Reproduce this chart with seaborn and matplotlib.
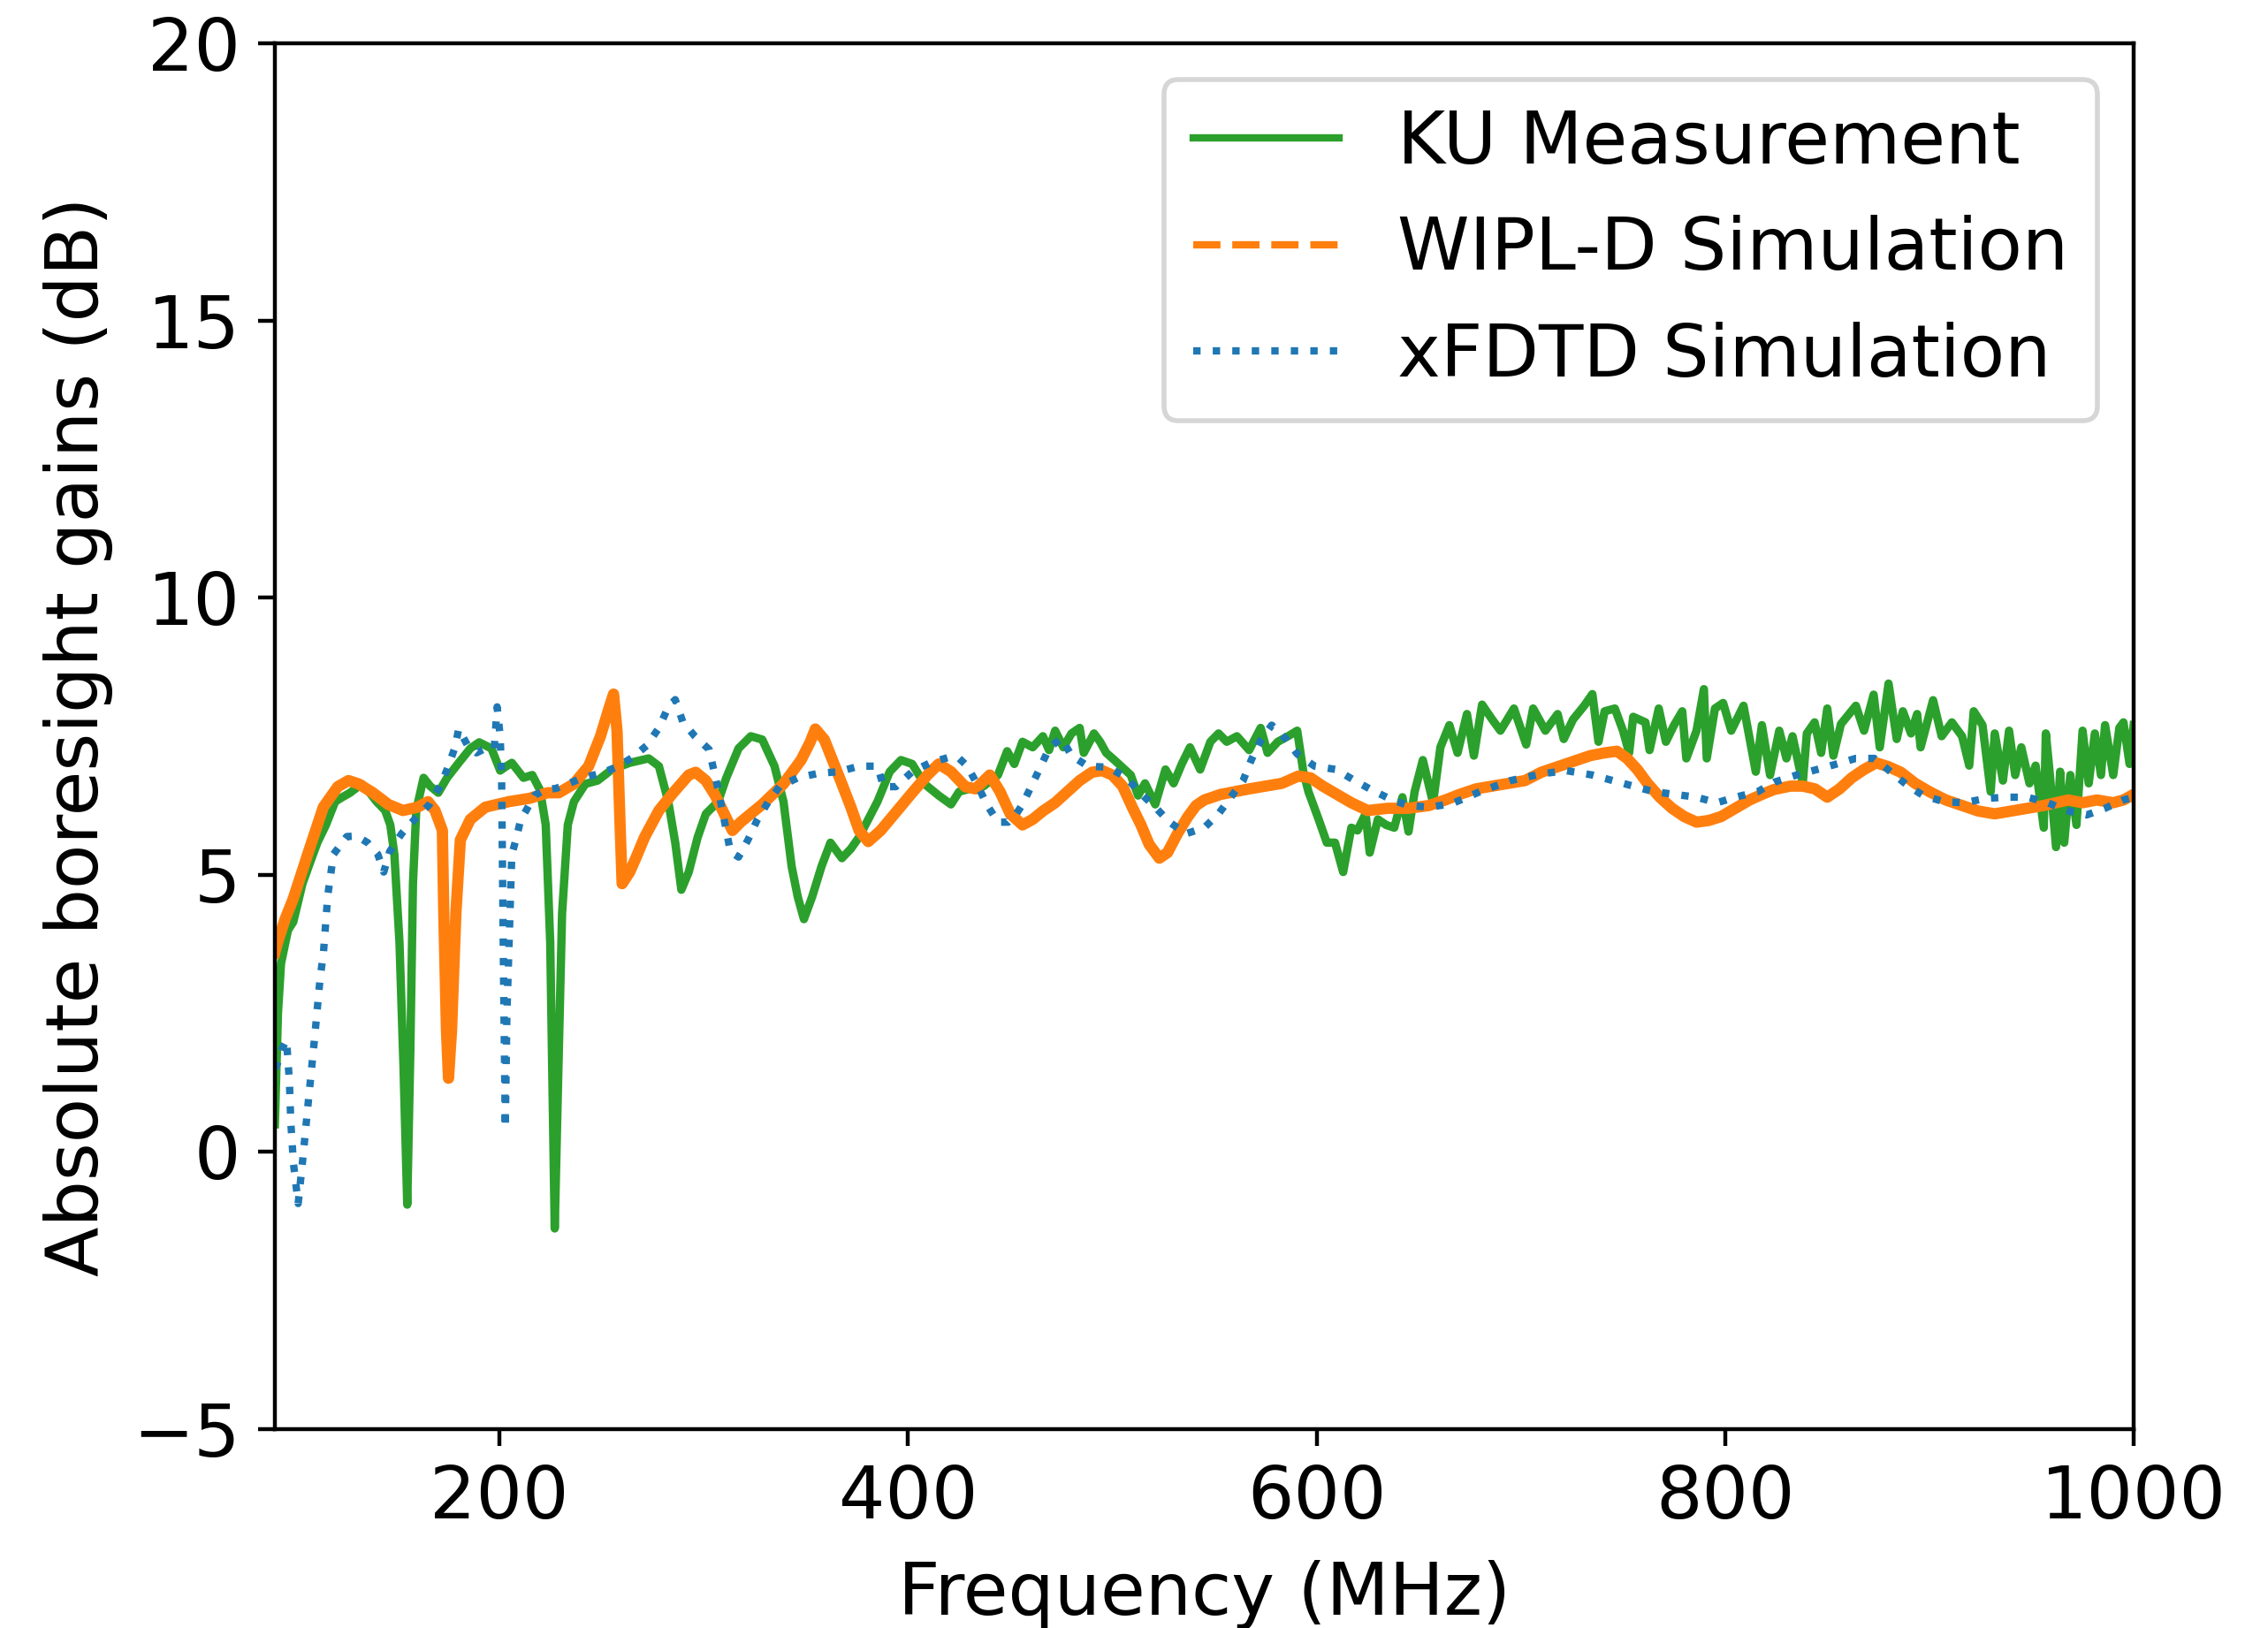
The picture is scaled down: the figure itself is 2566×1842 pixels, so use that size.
import matplotlib
matplotlib.use("Agg")
import matplotlib.pyplot as plt
import seaborn as sns
import numpy as np
import pandas as pd

# ---------------- data ----------------
ku_freq = [90, 91.5, 93, 96.4, 99, 103.5, 107, 110.8, 115, 119.5, 123, 126.8, 132.5, 136, 139.8, 144,
           146.5, 148.5, 151, 153, 154.8, 156.3, 157.6, 159.2, 162.8, 166, 170, 174.3, 180, 185.7, 190,
           196, 200.3, 203, 206, 211.7, 216, 219.8, 222.6, 224.8, 227, 228.8, 230.6, 233.4, 236.4, 242,
           248, 255, 263.7, 273, 278, 282.6, 286, 289, 292.6, 297, 301, 307, 311, 317, 323, 328.6, 334.6,
           339, 343, 346, 349, 353, 357.6, 362, 367.6, 372, 376, 380.5, 385, 391, 396.5, 402, 408, 415,
           421, 425, 430, 437, 444, 448.5, 452, 456, 461, 466, 469, 472, 476, 480, 484, 486, 491, 494,
           497, 501, 506, 509, 512.6, 516, 521, 526, 530, 534, 538, 543, 548, 552, 556, 561, 567, 572.6,
           576, 581, 586, 590.5, 593.5, 596, 601, 605, 609, 613, 617, 620, 624, 626, 630, 634, 638, 642,
           645, 648, 652, 657, 660.6, 665, 669, 673.6, 677, 681, 686, 690, 696.6, 702.6, 706, 712, 718,
           721, 725.5, 731, 735, 738, 741, 746, 750, 753, 755, 761, 763, 767.5, 771, 775, 779, 781, 786,
           789.6, 791, 795, 799, 803, 809, 815, 818, 822, 826.5, 830, 833, 838, 840, 843.8, 847, 850,
           853, 856.7, 864, 868, 872.7, 875.7, 880, 884, 887, 891, 894, 895.7, 901.8, 906, 911, 916,
           919.5, 921.7, 926, 930, 932, 936, 939, 942, 945, 949, 952, 956, 957, 959, 962, 964, 966, 969,
           972, 975, 978, 981, 984, 986, 990, 993, 995, 998, 1000]
ku_gain = [0.5, 2.5, 3.4, 4.0, 4.15, 4.84, 5.2, 5.58, 5.9, 6.32, 6.4, 6.48, 6.64, 6.5, 6.32, 6.16,
           5.9, 5.37, 3.78, 1.5, -0.95, 1.8, 4.84, 6.16, 6.75, 6.6, 6.48, 6.75, 7.02, 7.28, 7.39,
           7.28, 6.88, 6.95, 7.02, 6.75, 6.8, 6.53, 5.9, 3.78, -1.38, 1.5, 4.3, 5.9, 6.32, 6.64,
           6.7, 6.9, 7.02, 7.1, 6.96, 6.32, 5.58, 4.73, 5.05, 5.68, 6.1, 6.32, 6.75, 7.28, 7.5, 7.44, 6.96,
           6.32, 5.15, 4.6, 4.2, 4.6, 5.15, 5.58, 5.3, 5.47, 5.68, 6.0, 6.32, 6.86, 7.07, 7.0, 6.64, 6.43,
           6.27, 6.5, 6.55, 6.6, 6.8, 7.23, 7.0, 7.4, 7.3, 7.5, 7.25, 7.6, 7.3, 7.55, 7.65, 7.2, 7.55, 7.4,
           7.2, 7.07, 6.9, 6.8, 6.43, 6.65, 6.27, 6.9, 6.65, 7.0, 7.3, 6.9, 7.4, 7.55, 7.4, 7.5, 7.25, 7.65,
           7.2, 7.4, 7.5, 7.6, 6.86, 6.5, 6.0, 5.58, 5.58, 5.05, 5.85, 5.8, 6.1, 5.4, 6.0, 5.9, 5.85, 6.4,
           5.78, 6.5, 7.07, 6.3, 7.3, 7.7, 7.2, 7.9, 7.15, 8.07, 7.8, 7.6, 8.0, 7.35, 8.0, 7.6, 7.9,
           7.45, 7.8, 8.05, 8.26, 7.4, 7.95, 8.0, 7.6, 7.2, 7.85, 7.75, 7.25, 8.0, 7.4, 7.7, 7.95, 7.1, 7.6,
           8.35, 7.1, 8.0, 8.1, 7.6, 8.05, 6.86, 7.7, 6.8, 7.6, 7.1, 7.5, 6.65, 7.55, 7.75, 7.2, 8.0,
           7.15, 7.72, 8.05, 7.6, 8.25, 7.3, 8.45, 7.45, 7.95, 7.55, 7.9, 7.3, 8.15, 7.5, 7.75, 7.5,
           6.97, 7.95, 7.7, 6.5, 7.55, 6.7, 7.6, 6.8, 7.3, 6.65, 6.97, 5.85, 7.55, 6.8, 5.5, 6.86, 5.58, 6.8,
           5.9, 7.6, 6.65, 7.55, 6.8, 7.7, 6.8, 7.65, 7.75, 7.0, 7.7]

wipl_freq = [90, 91.3, 95, 99, 106.5, 113.7, 120.8, 126, 131, 138, 145.5, 152.7, 159.8, 165, 168.4, 172,
             172.7, 174, 175, 176.5, 178.6, 180.8, 185.7, 193, 204.6, 214.7, 223.4, 229, 236.4, 243.6,
             249.4, 253.7, 255.8, 257.5, 259, 260, 263.7, 266.7, 271, 278, 285, 292.6, 296, 301, 305.6,
             310, 314, 318, 328.6, 339, 347.6, 352, 354.6, 359, 363, 367.6, 372, 376, 380.5, 386.6, 393.6,
             402, 409.5, 415, 421, 428, 433, 440, 445, 450, 456, 461, 466, 472, 478, 484, 490, 495, 500,
             505, 510, 514, 518, 523, 527, 532, 537, 541, 545, 553, 560, 567, 575, 583, 591, 597, 603, 610,
             617, 625, 635, 645, 655, 663, 670, 678, 686, 694, 702, 710, 718, 726, 734, 741, 747, 752, 757,
             762, 768, 774, 780, 786, 792, 798, 805, 812, 818, 824, 832, 838, 844, 850, 856, 862, 868, 874,
             880, 886, 893, 900, 908, 916, 924, 932, 940, 948, 956, 962, 968, 975, 982, 990, 995, 1000]
wipl_gain = [3.6, 3.78, 4.2, 4.57, 5.42, 6.22, 6.59, 6.7, 6.64, 6.48, 6.27, 6.16, 6.22, 6.32, 6.16, 5.8,
             4.3, 2.2, 1.33, 2.2, 4.3, 5.63, 6.0, 6.22, 6.32, 6.38, 6.48, 6.48, 6.64, 6.96,
             7.5, 8.02, 8.26, 7.6, 5.9, 4.84, 5.05, 5.3, 5.68, 6.16, 6.48, 6.8, 6.85, 6.7, 6.43,
             6.1, 5.8, 5.95, 6.27, 6.64, 7.07, 7.39, 7.63, 7.44, 7.07, 6.64, 6.22, 5.8, 5.6, 5.8, 6.11,
             6.48, 6.8, 7.0, 6.86, 6.59, 6.55, 6.8, 6.5, 6.1, 5.9, 6.0, 6.15, 6.3, 6.5, 6.7, 6.85, 6.88, 6.8,
             6.6, 6.2, 5.9, 5.55, 5.3, 5.4, 5.75, 6.05, 6.25, 6.35, 6.45, 6.5, 6.55, 6.6, 6.65, 6.78, 6.75, 6.6, 6.45,
             6.3, 6.16, 6.2, 6.2, 6.25, 6.35, 6.45, 6.55, 6.6, 6.65, 6.7, 6.85, 6.95, 7.05, 7.15, 7.2, 7.23, 7.1, 6.9,
             6.65, 6.4, 6.2, 6.05, 5.95, 5.98, 6.05, 6.2, 6.35, 6.45, 6.54, 6.6, 6.6, 6.55, 6.4, 6.55, 6.75, 6.9, 7.02,
             6.95, 6.85, 6.65, 6.5, 6.35, 6.25, 6.15, 6.1, 6.15, 6.2, 6.25, 6.3, 6.35, 6.3, 6.35, 6.3, 6.35, 6.45]

xfdtd_freq = [90, 91.3, 93.5, 95.7, 97.1, 97.8, 99.1, 101.4, 103.6, 106.5, 109.4, 112.2, 113.7, 115.9, 118.7,
              125.2, 130, 135.4, 140.4, 143.3, 146.2, 152, 158.4, 165.7, 171.4, 174.3, 178, 180, 184.4,
              188.7, 193, 197.4, 198.8, 200.3, 201, 202, 202.8, 203.6, 206, 208, 210.4, 213, 217, 222,
              227.7, 233.5, 240.7, 249.4, 257.3, 265.2, 272, 278, 282.6, 286, 289.7, 295.6, 302.6, 307,
              309, 311, 313, 317, 321.6, 326, 331.6, 337, 346, 356, 366, 376, 385, 388, 394, 402, 410.8,
              420, 425, 429, 434, 438.5, 444, 449, 453, 456, 460.6, 465, 469, 475, 480, 488, 498, 507, 513,
              521, 528, 536, 545, 552, 558, 564, 568, 572.6, 578, 585, 590.5, 599, 609.5, 618.6, 627, 637,
              645, 655, 666, 680, 695, 710, 722, 735, 750, 765, 786, 796, 805, 816, 824, 835, 850, 864,
              873, 881, 889, 897, 907, 917, 928, 938, 948, 958, 967, 977, 986, 995, 1000]
xfdtd_gain = [1.5, 1.6, 1.86, 2.02, 1.28, 0.53, -0.21, -0.93, -0.15, 0.96, 2.04, 3.16, 3.56, 4.63, 5.37,
              5.69, 5.7, 5.58, 5.37, 5.05, 5.42, 5.74, 6.0, 6.27, 6.64, 6.9, 7.28, 7.63, 7.33,
              7.2, 7.28, 7.28, 8.03, 7.5, 6.75, 3.0, 0.43, 2.5, 5.37, 5.63, 6.0, 6.16, 6.43, 6.53,
              6.56, 6.64, 6.75, 6.83, 6.94, 7.12, 7.33, 7.65, 8.03, 8.16, 7.76, 7.5, 7.26, 6.54,
              6.17, 5.8, 5.42, 5.32, 5.63, 5.98, 6.32, 6.59, 6.75, 6.83, 6.86, 6.96, 6.96, 6.59, 6.59, 6.86, 7.02,
              7.12, 7.1, 6.96, 6.62, 6.27, 5.95, 5.95, 6.1, 6.27, 6.62, 6.96, 7.28, 7.47, 7.15, 6.96, 6.94, 6.75, 6.5,
              6.22, 5.95, 5.74, 5.85, 6.1, 6.4, 6.7, 7.07, 7.42, 7.7, 7.45, 7.18, 6.96, 6.9, 6.7, 6.53, 6.35,
              6.25, 6.22, 6.28, 6.5, 6.7, 6.82, 6.88, 6.8, 6.65, 6.5, 6.4, 6.3, 6.4, 6.5, 6.67, 6.8, 6.95, 7.1,
              7.1, 6.86, 6.62, 6.43, 6.32, 6.3, 6.38, 6.4, 6.4, 6.3, 6.16, 6.08, 6.2, 6.35, 6.4]

series_labels = ["KU Measurement", "WIPL-D Simulation", "xFDTD Simulation"]
x_ticks = [200, 400, 600, 800, 1000]
y_ticks = [-5, 0, 5, 10, 15, 20]

# ---------------- figure ----------------
DPI = 400
plt.rcParams['font.family'] = ['DejaVu Sans']
plt.rcParams['font.size'] = 14.85

fig = plt.figure(figsize=(2566 / DPI, 1842 / DPI), dpi=DPI)
ax = fig.add_axes([311 / 2566, 1 - 1617 / 1842, (2414 - 311) / 2566, (1617 - 49) / 1842])

df_ku = pd.DataFrame({"f": ku_freq, "g": ku_gain})
df_wipl = pd.DataFrame({"f": wipl_freq, "g": wipl_gain})
df_xf = pd.DataFrame({"f": xfdtd_freq, "g": xfdtd_gain})

sns.lineplot(data=df_ku, x="f", y="g", ax=ax, color="#2ca02c", lw=1.7,
             linestyle="-", label=series_labels[0], estimator=None)
sns.lineplot(data=df_wipl, x="f", y="g", ax=ax, color="#ff7f0e", lw=2.3,
             linestyle="-", label=series_labels[1], estimator=None)
sns.lineplot(data=df_xf, x="f", y="g", ax=ax, color="#1f77b4", lw=1.5,
             linestyle=":", label=series_labels[2], estimator=None)

ax.set_xlim(90, 1000)
ax.set_ylim(-5, 20)
ax.set_xticks(x_ticks)
ax.set_yticks(y_ticks)
ax.set_xlabel("Frequency (MHz)", labelpad=5.5)
ax.set_ylabel("Absolute boresight gains (dB)", labelpad=4.0)

leg = ax.legend(loc="upper right")
hl = leg.get_lines()
hl[0].set_linewidth(1.5)
hl[1].set_linewidth(1.5)
hl[1].set_linestyle("--")
hl[2].set_linewidth(1.5)
hl[2].set_linestyle(":")

fig.savefig("out.png", dpi=DPI)
